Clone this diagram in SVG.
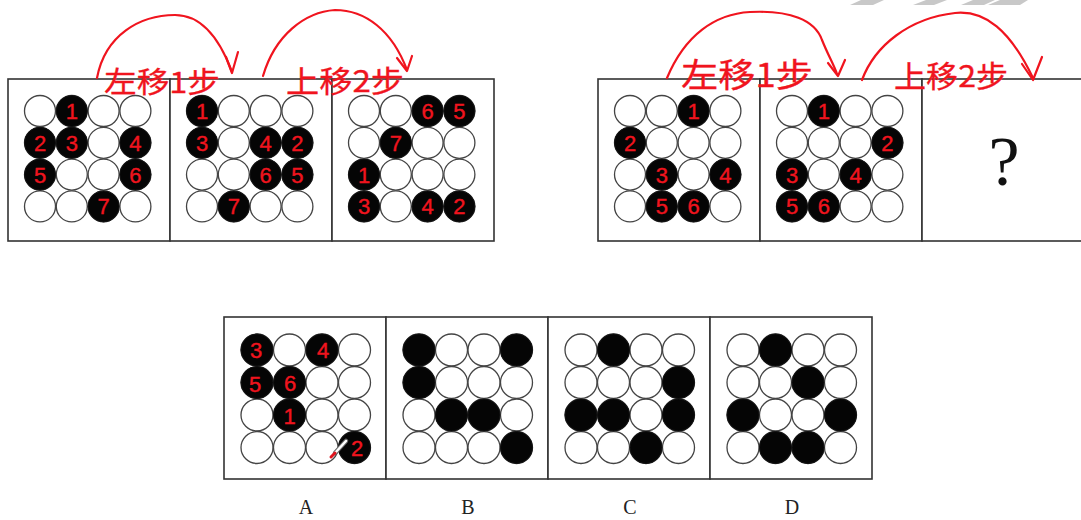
<svg xmlns="http://www.w3.org/2000/svg" xmlns:xlink="http://www.w3.org/1999/xlink" width="1081" height="520" viewBox="0 0 1081 520">
<style>
.box{fill:#fff;stroke:#333;stroke-width:1.6}
.w{fill:#fff;stroke:#444;stroke-width:1.3}
.b{fill:#050505;stroke:#111;stroke-width:1}
.n{fill:#f0141e;font-family:"Liberation Sans",Arial,sans-serif;font-size:22px;text-anchor:middle;stroke:#f0141e;stroke-width:0.4}
.hw{fill:#f0141e;font-family:"Noto Sans CJK SC","Liberation Sans",sans-serif;stroke:#f0141e;stroke-width:0.3}
.arc{fill:none;stroke:#f0141e;stroke-width:2.2;stroke-linecap:round;stroke-linejoin:round}
.lbl{fill:#222;font-family:"Liberation Serif","Times New Roman",serif;font-size:20px;text-anchor:middle}
.stripe{fill:#c8c8c8}
</style>
<defs>
<g id="gt">
<circle class="w" cx="32" cy="32" r="15.5"/><circle class="w" cx="63.8" cy="32" r="15.5"/><circle class="w" cx="95.6" cy="32" r="15.5"/><circle class="w" cx="127.4" cy="32" r="15.5"/>
<circle class="w" cx="32" cy="63.8" r="15.5"/><circle class="w" cx="63.8" cy="63.8" r="15.5"/><circle class="w" cx="95.6" cy="63.8" r="15.5"/><circle class="w" cx="127.4" cy="63.8" r="15.5"/>
<circle class="w" cx="32" cy="95.6" r="15.5"/><circle class="w" cx="63.8" cy="95.6" r="15.5"/><circle class="w" cx="95.6" cy="95.6" r="15.5"/><circle class="w" cx="127.4" cy="95.6" r="15.5"/>
<circle class="w" cx="32" cy="127.4" r="15.5"/><circle class="w" cx="63.8" cy="127.4" r="15.5"/><circle class="w" cx="95.6" cy="127.4" r="15.5"/><circle class="w" cx="127.4" cy="127.4" r="15.5"/>
</g>
<g id="gb">
<circle class="w" cx="33" cy="33" r="16"/><circle class="w" cx="65.5" cy="33" r="16"/><circle class="w" cx="98" cy="33" r="16"/><circle class="w" cx="130.5" cy="33" r="16"/>
<circle class="w" cx="33" cy="65.5" r="16"/><circle class="w" cx="65.5" cy="65.5" r="16"/><circle class="w" cx="98" cy="65.5" r="16"/><circle class="w" cx="130.5" cy="65.5" r="16"/>
<circle class="w" cx="33" cy="98" r="16"/><circle class="w" cx="65.5" cy="98" r="16"/><circle class="w" cx="98" cy="98" r="16"/><circle class="w" cx="130.5" cy="98" r="16"/>
<circle class="w" cx="33" cy="130.5" r="16"/><circle class="w" cx="65.5" cy="130.5" r="16"/><circle class="w" cx="98" cy="130.5" r="16"/><circle class="w" cx="130.5" cy="130.5" r="16"/>
</g>
</defs>
<rect width="1081" height="520" fill="#fff"/>
<g id="stripes">
<polygon class="stripe" points="850,5 873,5 884,0 861,0"/>
<polygon class="stripe" points="913,5 934,5 947,0 926,0"/>
<polygon class="stripe" points="961,5 984,5 995,0 973,0"/>
<polygon class="stripe" points="988,5 1020,5 1028,0 1000,0"/>
</g>
<g id="p1" transform="translate(8,79)">
<rect class="box" x="0" y="0" width="162" height="162"/>
<use xlink:href="#gt"/>
<circle class="b" cx="63.8" cy="32" r="15.5"/><circle class="b" cx="32" cy="63.8" r="15.5"/><circle class="b" cx="63.8" cy="63.8" r="15.5"/><circle class="b" cx="127.4" cy="63.8" r="15.5"/><circle class="b" cx="32" cy="95.6" r="15.5"/><circle class="b" cx="127.4" cy="95.6" r="15.5"/><circle class="b" cx="95.6" cy="127.4" r="15.5"/>
<text class="n" x="63.8" y="40">1</text><text class="n" x="32" y="72">2</text><text class="n" x="63.8" y="72">3</text><text class="n" x="127.4" y="72">4</text><text class="n" x="32" y="104">5</text><text class="n" x="127.4" y="104">6</text><text class="n" x="95.6" y="135">7</text>
</g>
<g id="p2" transform="translate(170,79)">
<rect class="box" x="0" y="0" width="162" height="162"/>
<use xlink:href="#gt"/>
<circle class="b" cx="32" cy="32" r="15.5"/><circle class="b" cx="32" cy="63.8" r="15.5"/><circle class="b" cx="95.6" cy="63.8" r="15.5"/><circle class="b" cx="127.4" cy="63.8" r="15.5"/><circle class="b" cx="95.6" cy="95.6" r="15.5"/><circle class="b" cx="127.4" cy="95.6" r="15.5"/><circle class="b" cx="63.8" cy="127.4" r="15.5"/>
<text class="n" x="32" y="40">1</text><text class="n" x="32" y="72">3</text><text class="n" x="95.6" y="72">4</text><text class="n" x="127.4" y="72">2</text><text class="n" x="95.6" y="104">6</text><text class="n" x="127.4" y="104">5</text><text class="n" x="63.8" y="135">7</text>
</g>
<g id="p3" transform="translate(332,79)">
<rect class="box" x="0" y="0" width="162" height="162"/>
<use xlink:href="#gt"/>
<circle class="b" cx="95.6" cy="32" r="15.5"/><circle class="b" cx="127.4" cy="32" r="15.5"/><circle class="b" cx="63.8" cy="63.8" r="15.5"/><circle class="b" cx="32" cy="95.6" r="15.5"/><circle class="b" cx="32" cy="127.4" r="15.5"/><circle class="b" cx="95.6" cy="127.4" r="15.5"/><circle class="b" cx="127.4" cy="127.4" r="15.5"/>
<text class="n" x="95.6" y="40">6</text><text class="n" x="127.4" y="40">5</text><text class="n" x="63.8" y="72">7</text><text class="n" x="32" y="104">1</text><text class="n" x="32" y="135">3</text><text class="n" x="95.6" y="135">4</text><text class="n" x="127.4" y="135">2</text>
</g>
<g id="p4" transform="translate(598,79)">
<rect class="box" x="0" y="0" width="162" height="162"/>
<use xlink:href="#gt"/>
<circle class="b" cx="95.6" cy="32" r="15.5"/><circle class="b" cx="32" cy="63.8" r="15.5"/><circle class="b" cx="63.8" cy="95.6" r="15.5"/><circle class="b" cx="127.4" cy="95.6" r="15.5"/><circle class="b" cx="63.8" cy="127.4" r="15.5"/><circle class="b" cx="95.6" cy="127.4" r="15.5"/>
<text class="n" x="95.6" y="40">1</text><text class="n" x="32" y="72">2</text><text class="n" x="63.8" y="104">3</text><text class="n" x="127.4" y="104">4</text><text class="n" x="63.8" y="135">5</text><text class="n" x="95.6" y="135">6</text>
</g>
<g id="p5" transform="translate(760,79)">
<rect class="box" x="0" y="0" width="162" height="162"/>
<use xlink:href="#gt"/>
<circle class="b" cx="63.8" cy="32" r="15.5"/><circle class="b" cx="127.4" cy="63.8" r="15.5"/><circle class="b" cx="32" cy="95.6" r="15.5"/><circle class="b" cx="95.6" cy="95.6" r="15.5"/><circle class="b" cx="32" cy="127.4" r="15.5"/><circle class="b" cx="63.8" cy="127.4" r="15.5"/>
<text class="n" x="63.8" y="40">1</text><text class="n" x="127.4" y="72">2</text><text class="n" x="32" y="104">3</text><text class="n" x="95.6" y="104">4</text><text class="n" x="32" y="135">5</text><text class="n" x="63.8" y="135">6</text>
</g>
<g id="p6" transform="translate(922,79)">
<rect class="box" x="0" y="0" width="162" height="162"/>
<text x="82" y="106" font-family="Liberation Serif,serif" font-size="70" text-anchor="middle" fill="#111">?</text>
</g>
<g id="optA" transform="translate(224,317)">
<rect class="box" x="0" y="0" width="162" height="162"/>
<use xlink:href="#gb"/>
<circle class="b" cx="33" cy="33" r="16"/><circle class="b" cx="98" cy="33" r="16"/><circle class="b" cx="33" cy="65.5" r="16"/><circle class="b" cx="65.5" cy="65.5" r="16"/><circle class="b" cx="65.5" cy="98" r="16"/><circle class="b" cx="130.5" cy="130.5" r="16"/>
<text class="n" x="32" y="41">3</text><text class="n" x="99" y="41">4</text><text class="n" x="31" y="75">5</text><text class="n" x="66" y="74">6</text><text class="n" x="65.5" y="107">1</text><text class="n" x="133" y="139">2</text>
</g>
<g id="optB" transform="translate(386,317)">
<rect class="box" x="0" y="0" width="162" height="162"/>
<use xlink:href="#gb"/>
<circle class="b" cx="33" cy="33" r="16"/><circle class="b" cx="130.5" cy="33" r="16"/><circle class="b" cx="33" cy="65.5" r="16"/><circle class="b" cx="65.5" cy="98" r="16"/><circle class="b" cx="98" cy="98" r="16"/><circle class="b" cx="130.5" cy="130.5" r="16"/>
</g>
<g id="optC" transform="translate(548,317)">
<rect class="box" x="0" y="0" width="162" height="162"/>
<use xlink:href="#gb"/>
<circle class="b" cx="65.5" cy="33" r="16"/><circle class="b" cx="130.5" cy="65.5" r="16"/><circle class="b" cx="33" cy="98" r="16"/><circle class="b" cx="65.5" cy="98" r="16"/><circle class="b" cx="130.5" cy="98" r="16"/><circle class="b" cx="98" cy="130.5" r="16"/>
</g>
<g id="optD" transform="translate(710,317)">
<rect class="box" x="0" y="0" width="162" height="162"/>
<use xlink:href="#gb"/>
<circle class="b" cx="65.5" cy="33" r="16"/><circle class="b" cx="98" cy="65.5" r="16"/><circle class="b" cx="33" cy="98" r="16"/><circle class="b" cx="130.5" cy="98" r="16"/><circle class="b" cx="65.5" cy="130.5" r="16"/><circle class="b" cx="98" cy="130.5" r="16"/>
</g>
<g id="labels">
<text class="lbl" x="306" y="514">A</text>
<text class="lbl" x="468" y="514">B</text>
<text class="lbl" x="630" y="514">C</text>
<text class="lbl" x="792" y="514">D</text>
</g>
<g id="connectors">
<path class="arc" d="M97,78 C105,35 140,15 175,15 C205,15 222,45 232,72"/>
<path class="arc" d="M226,57 L232,73 L238,52"/>
<path class="arc" d="M263,76 C275,35 305,12 335,10 C365,10 392,30 407,70"/>
<path class="arc" d="M397,58 L407,71 L412,56"/>
<path class="arc" d="M667,78 C685,35 715,14 750,12 C790,10 815,20 822,40 C828,55 834,65 837,74"/>
<path class="arc" d="M828,63 L838,76 L845,60"/>
<path class="arc" d="M862,80 C875,45 910,18 955,13 C985,10 1010,30 1033,78"/>
<path class="arc" d="M1022,64 L1033,80 L1042,57"/>
</g>
<g id="notes">
<text class="hw" x="104" y="93" font-size="29" textLength="116" lengthAdjust="spacingAndGlyphs">左移1步</text>
<text class="hw" x="286" y="92" font-size="30" textLength="118" lengthAdjust="spacingAndGlyphs">上移2步</text>
<text class="hw" x="681" y="87" font-size="33" textLength="132" lengthAdjust="spacingAndGlyphs">左移1步</text>
<text class="hw" x="894" y="87" font-size="30" textLength="114" lengthAdjust="spacingAndGlyphs">上移2步</text>
</g>
<g id="cursor">
<line x1="335" y1="453" x2="346" y2="441" stroke="#666" stroke-width="4.5" stroke-linecap="round"/>
<line x1="335" y1="453" x2="346" y2="441" stroke="#fff" stroke-width="2.5" stroke-linecap="round"/>
<line x1="331" y1="457" x2="335" y2="453" stroke="#e0141e" stroke-width="3" stroke-linecap="round"/>
</g>
</svg>
